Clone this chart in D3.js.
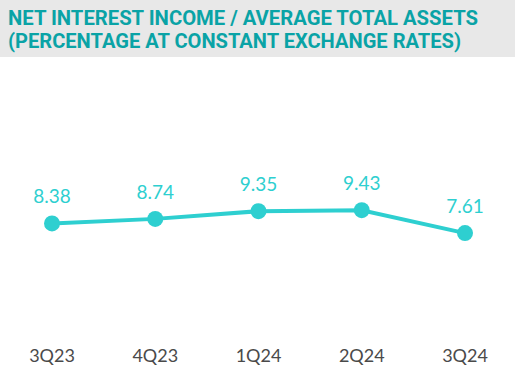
<!doctype html>
<html>
  <head>
    <script src="https://cdn.jsdelivr.net/npm/d3@7/dist/d3.min.js"></script>
    <style>
      body { margin: 0; background: #fff; }
    </style>
  </head>
  <body>
    <svg id="chart" width="521" height="380"></svg>
    <script>
      var titleLines = ["NET INTEREST INCOME / AVERAGE TOTAL ASSETS",
                        "(PERCENTAGE AT CONSTANT EXCHANGE RATES)"];
      var quarters = ["3Q23", "4Q23", "1Q24", "2Q24", "3Q24"];
      var ratios = [8.38, 8.74, 9.35, 9.43, 7.61];

      var data = quarters.map((q, i) => ({q: q, v: ratios[i]}));

      var svg = d3.select("#chart");

      // title band
      svg.append("rect")
        .attr("x", 0).attr("y", 0)
        .attr("width", 515).attr("height", 57)
        .attr("fill", "#e8e8e8");

      svg.selectAll("text.title")
        .data(titleLines)
        .enter()
        .append("text")
          .attr("class", "title")
          .attr("x", 8)
          .attr("y", (d, i) => 25 + i * 23)
          .attr("fill", "#0aa3a6")
          .style("font-family", "Roboto, 'Open Sans', sans-serif")
          .style("font-weight", "bold")
          .style("font-size", "20px")
          .text(d => d);

      // squeeze title to the reference width
      svg.selectAll("text.title").each(function(d, i) {
        var target = i == 0 ? 470 : 453;
        var w = this.getComputedTextLength();
        if (w > 0) d3.select(this).attr("textLength", target).attr("lengthAdjust", "spacingAndGlyphs");
      });

      var x = d3.scalePoint()
        .domain(quarters)
        .range([52, 465]);

      var y = d3.scaleLinear()
        .domain([0, 10])
        .range([329, 203]);

      var line = d3.line()
        .x(d => x(d.q))
        .y(d => y(d.v));

      svg.append("path")
        .datum(data)
        .attr("d", line)
        .attr("fill", "none")
        .attr("stroke", "#2ecfd0")
        .attr("stroke-width", 4);

      svg.selectAll("circle")
        .data(data)
        .enter()
        .append("circle")
          .attr("cx", d => x(d.q))
          .attr("cy", d => y(d.v))
          .attr("r", 8)
          .attr("fill", "#2ecfd0");

      svg.selectAll("text.val")
        .data(data)
        .enter()
        .append("text")
          .attr("class", "val")
          .attr("x", d => x(d.q))
          .attr("y", d => y(d.v) - 20)
          .attr("text-anchor", "middle")
          .attr("fill", "#2ecfd0")
          .style("font-family", "Lato, sans-serif")
          .style("font-size", "19px")
          .text(d => d.v.toFixed(2));

      svg.selectAll("text.cat")
        .data(quarters)
        .enter()
        .append("text")
          .attr("class", "cat")
          .attr("x", d => x(d))
          .attr("y", 362)
          .attr("text-anchor", "middle")
          .attr("fill", "#4a4a4a")
          .style("font-family", "Lato, sans-serif")
          .style("font-size", "18px")
          .text(d => d);
    </script>
  </body>
</html>
